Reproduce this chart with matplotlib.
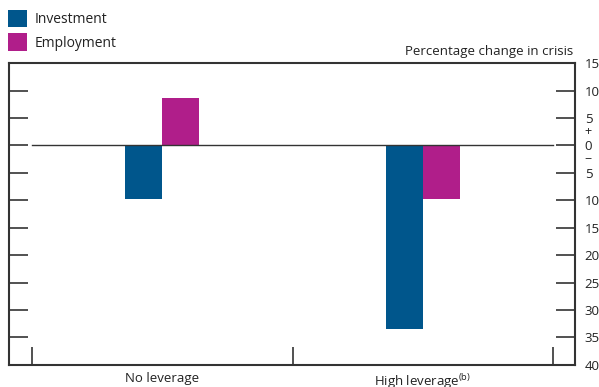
import numpy as np
import matplotlib.pyplot as plt
from matplotlib.ticker import FuncFormatter

categories = ['No leverage', 'High leverage$^{\\rm(b)}$']
investment = [-9.8, -33.5]
employment = [8.6, -9.7]

plt.rcParams['font.family'] = ['Open Sans', 'DejaVu Sans']
plt.rcParams['mathtext.fontset'] = 'custom'
plt.rcParams['mathtext.rm'] = 'Open Sans'

fig = plt.figure(figsize=(5.99, 3.87), dpi=100)
ax = fig.add_axes([0.015, 0.057, 0.945, 0.780])

x = np.array([0.5, 1.5])
w = 0.142
ax.bar(x - w / 2, investment, w, color='#00568C', label='Investment')
ax.bar(x + w / 2, employment, w, color='#B01E8A', label='Employment')

# zero line stops short of the frame
ax.plot([0, 2], [0, 0], color='#333333', lw=1.0)

ax.set_xlim(-0.088, 2.084)
ax.set_ylim(-40, 15)
ax.set_yticks(np.arange(-40, 16, 5))
ax.yaxis.set_major_formatter(FuncFormatter(lambda v, p: '%d' % abs(v)))
ax.tick_params(axis='y', left=True, right=True, labelleft=False, labelright=True,
               direction='in', length=14, width=1.2, color='#333333',
               labelsize=9.5, pad=7, labelcolor='#222222')

ax.set_xticks([0, 1, 2])
ax.set_xticklabels([])
ax.tick_params(axis='x', direction='in', length=13, width=1.2, color='#333333')
for xc, lab in zip(x, categories):
    ax.text(xc, -41.3, lab, ha='center', va='top', fontsize=9.5, color='#222222')

for s in ax.spines.values():
    s.set_color('#333333')
    s.set_linewidth(1.5)

ax.text(2.134, 2.6, '+', fontsize=9, ha='center', va='center', color='#222222', clip_on=False)
ax.text(2.134, -2.4, '\u2212', fontsize=9, ha='center', va='center', color='#222222', clip_on=False)

fig.text(0.957, 0.866, 'Percentage change in crisis', ha='right', va='center',
         fontsize=9.5, color='#222222')

fig.legend(loc='upper left', bbox_to_anchor=(0.013, 0.975), frameon=False,
           fontsize=10, handlelength=1.4, handleheight=1.55, handletextpad=0.5,
           labelspacing=0.45, borderaxespad=0, borderpad=0, labelcolor='#222222')

fig.savefig('out.png', dpi=100)
